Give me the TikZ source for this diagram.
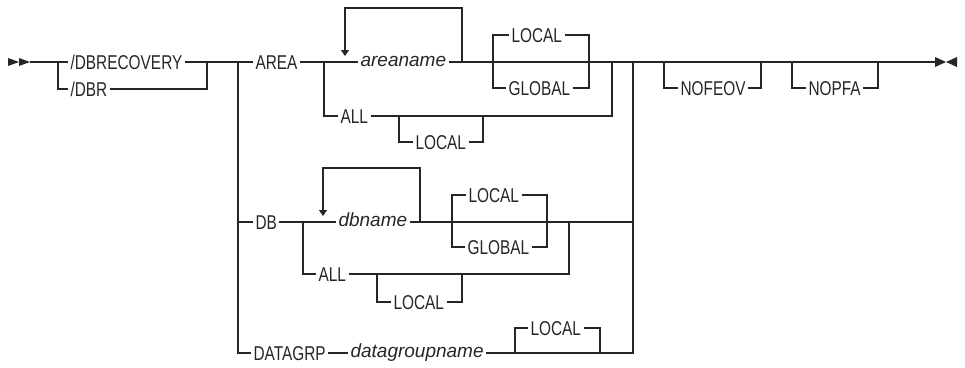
\documentclass[tikz,border=0pt]{standalone}
\usepackage{fontspec}
\setmainfont{Liberation Sans}[FakeStretch=0.77]
\newfontfamily\varfont{Liberation Sans}
\usetikzlibrary{arrows.meta}
\definecolor{rail}{HTML}{262626}
\newcommand\kwfont{\fontsize{20}{23}\selectfont}
\newcommand\vnfont{\varfont\itshape\fontsize{19}{22}\selectfont}
\tikzset{
  kwd/.style={anchor=west,inner xsep=2pt,inner ysep=0pt,text height=14.3pt,text depth=0pt,font=\kwfont,text=rail},
  vname/.style={kwd,text height=9.9pt,font=\vnfont},
  fat/.style={line width=2.4pt},
}
\begin{document}
\begin{tikzpicture}[x=1pt,y=-1pt,>={Triangle[length=6pt,width=8pt]},line join=miter,color=rail,line width=1.1pt]
\useasboundingbox (0,0) rectangle (965,367);
%%
\node (node_dbrecovery) at (68,62) [kwd] {/DBRECOVERY};
  \node (node_dbr) at (68,89) [kwd] {/DBR};
  \node (node_area) at (253,62) [kwd] {AREA};
  \node (node_areaname) at (358,62) [vname] {areaname};
  \node (node_area_local) at (509,35) [kwd] {LOCAL};
  \node (node_area_global) at (506,88) [kwd] {GLOBAL};
  \node (node_area_all) at (338,116) [kwd] {ALL};
  \node (node_area_all_local) at (413,142) [kwd] {LOCAL};
  \node (node_db) at (253,222) [kwd] {DB};
  \node (node_dbname) at (336,222) [vname] {dbname};
  \node (node_db_local) at (466,195) [kwd] {LOCAL};
  \node (node_db_global) at (465,247) [kwd] {GLOBAL};
  \node (node_db_all) at (316,274) [kwd] {ALL};
  \node (node_db_all_local) at (391,302) [kwd] {LOCAL};
  \node (node_datagrp) at (251,353) [kwd] {DATAGRP};
  \node (node_datagroupname) at (348,353) [vname] {datagroupname};
  \node (node_dg_local) at (528,328) [kwd] {LOCAL};
  \node (node_nofeov) at (678,88) [kwd] {NOFEOV};
  \node (node_nopfa) at (806,88) [kwd] {NOPFA};
%%
\coordinate (c_begin) at (30,62);
  \coordinate (c_split) at (58,62);
  \coordinate (c_join) at (207,62);
  \coordinate (c_left) at (238,62);
  \coordinate (c_right) at (633,62);
  \coordinate (c_area_all) at (324,62);
  \coordinate (c_area_rep) at (462,62);
  \coordinate (c_area_top) at (345,8);
  \coordinate (c_area_tip) at (345,56);
  \coordinate (c_area_opt1) at (493,62);
  \coordinate (c_area_opt2) at (589,62);
  \coordinate (c_area_end) at (612,62);
  \coordinate (c_area_loc1) at (399,116);
  \coordinate (c_area_loc2) at (483,116);
  \coordinate (c_db_all) at (303,222);
  \coordinate (c_db_rep) at (420,222);
  \coordinate (c_db_top) at (323,168);
  \coordinate (c_db_tip) at (323,216);
  \coordinate (c_db_opt1) at (452,222);
  \coordinate (c_db_opt2) at (547,222);
  \coordinate (c_db_end) at (569,222);
  \coordinate (c_db_right) at (633,222);
  \coordinate (c_db_loc1) at (377,274);
  \coordinate (c_db_loc2) at (462,274);
  \coordinate (c_dg_opt1) at (515,353);
  \coordinate (c_dg_opt2) at (600,353);
  \coordinate (c_nof1) at (664,62);
  \coordinate (c_nof2) at (761,62);
  \coordinate (c_nop1) at (792,62);
  \coordinate (c_nop2) at (878,62);
  \coordinate (c_fat1) at (880,62);
  \coordinate (c_fat2) at (903,62);
  \coordinate (c_end) at (935,62);
%% start and end marks
\fill (8,58) -- (19,62) -- (8,66) -- cycle;
  \fill (19,58) -- (30,62) -- (19,66) -- cycle;
  \fill (935,57) -- (946,62) -- (935,67) -- cycle;
  \fill (957,57) -- (946,62) -- (957,67) -- cycle;
%% command name
\draw (c_begin) -- (node_dbrecovery.west);
  \draw (c_split) |- (node_dbr.west);
  \draw (node_dbr.east) -| (c_join);
  \draw (node_dbrecovery.east) -- (c_join) -- (c_left) -- (node_area.west);
  \draw (c_left) |- (node_db.west);
  \draw (c_left) |- (node_datagrp.west);
%% AREA
\draw (node_area.east) -- (node_areaname.west);
  \draw (node_areaname.east) -- (c_right);
  \draw [->] (c_area_rep) |- (c_area_top) -- (c_area_tip);
  \draw (c_area_opt1) |- (node_area_local.west);
  \draw (node_area_local.east) -| (c_area_opt2);
  \draw (c_area_opt1) |- (node_area_global.west);
  \draw (node_area_global.east) -| (c_area_opt2);
  \draw (c_area_all) |- (node_area_all.west);
  \draw (node_area_all.east) -| (c_area_end);
  \draw (c_area_loc1) |- (node_area_all_local.west);
  \draw (node_area_all_local.east) -| (c_area_loc2);
%% DB
\draw (node_db.east) -- (node_dbname.west);
  \draw (node_dbname.east) -- (c_db_right);
  \draw [->] (c_db_rep) |- (c_db_top) -- (c_db_tip);
  \draw (c_db_opt1) |- (node_db_local.west);
  \draw (node_db_local.east) -| (c_db_opt2);
  \draw (c_db_opt1) |- (node_db_global.west);
  \draw (node_db_global.east) -| (c_db_opt2);
  \draw (c_db_all) |- (node_db_all.west);
  \draw (node_db_all.east) -| (c_db_end);
  \draw (c_db_loc1) |- (node_db_all_local.west);
  \draw (node_db_all_local.east) -| (c_db_loc2);
%% DATAGRP
\draw (node_datagrp.east) -- (node_datagroupname.west);
  \draw (node_datagroupname.east) -| (c_right);
  \draw (c_dg_opt1) |- (node_dg_local.west);
  \draw (node_dg_local.east) -| (c_dg_opt2);
%% trailing options
\draw (c_right) -- (c_end);
  \draw (c_nof1) |- (node_nofeov.west);
  \draw (node_nofeov.east) -| (c_nof2);
  \draw (c_nop1) |- (node_nopfa.west);
  \draw (node_nopfa.east) -| (c_nop2);
  \draw [fat] (c_fat1) -- (c_fat2);
%
\end{tikzpicture}
\end{document}
